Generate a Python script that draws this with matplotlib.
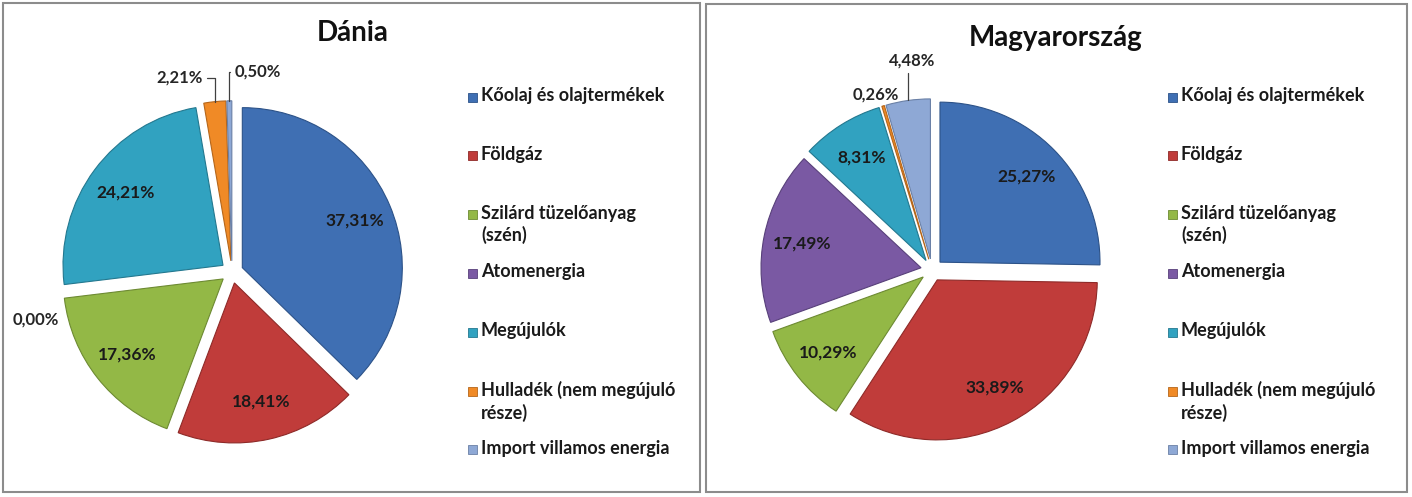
"""Energiamix: Dánia és Magyarország"""
import numpy as np
import matplotlib.pyplot as plt
from matplotlib.patches import Rectangle

plt.rcParams['font.family'] = ['Lato', 'DejaVu Sans']

categories = ['Kőolaj és olajtermékek', 'Földgáz', 'Szilárd tüzelőanyag\n(szén)',
              'Atomenergia', 'Megújulók', 'Hulladék (nem megújuló\nrésze)',
              'Import villamos energia']
dania = [37.31, 18.41, 17.36, 0.00, 24.21, 2.21, 0.50]
magyar = [25.27, 33.89, 10.29, 17.49, 8.31, 0.26, 4.48]
titles = ['Dánia', 'Magyarország']

colors = ['#3F6FB3', '#C03C3A', '#93B846', '#7A59A3', '#31A2C0', '#F08A26', '#8EA8D5']
edges = ['#2C5288', '#8E2A28', '#6D8A32', '#58407A', '#23788F', '#B5661A', '#6A80A6']

W, H = 1412, 497
UNIT = 160      # pie radius in pixels
EXPLODE = 0.07
HALF = 1.375

# panel layout in pixels (border box, pie centre, title position, legend x)
panels = [
    dict(box=(3, 3, 700, 492), center=(232, 272), title=(353, 33), legend_x=468),
    dict(box=(706, 4, 1407, 492), center=(932, 270), title=(1056, 38), legend_x=1168),
]

# labels that sit outside the pie: index -> (dx px, dy px, ha, leader)
outside = [
    {3: (-3, -27, 'right', False), 5: (-12, 24, 'right', True), 6: (5, 29, 'left', True)},
    {5: (-7, 11, 'center', False), 6: (4, 40, 'center', True)},
]


def fx(x):
    return x / W


def fy(y):
    return 1 - y / H


def pct(v):
    return f'{v:.2f}'.replace('.', ',') + '%'


fig = plt.figure(figsize=(W / 100, H / 100), dpi=100)

for values, title, panel, outs in zip([dania, magyar], titles, panels, outside):
    x0, y0, x1, y1 = panel['box']
    fig.patches.append(Rectangle((fx(x0), fy(y1)), fx(x1 - x0), (y1 - y0) / H,
                                 transform=fig.transFigure, fill=False,
                                 edgecolor='#8C8C8C', linewidth=1.5))
    cx, cy = panel['center']
    size = 2 * HALF * UNIT
    ax = fig.add_axes([fx(cx - size / 2), fy(cy + size / 2), size / W, size / H])
    wedges, _ = ax.pie(values, colors=colors, startangle=90, counterclock=False,
                       explode=[EXPLODE] * len(values), radius=1,
                       wedgeprops=dict(linewidth=0.8))
    for w, ec, v in zip(wedges, edges, values):
        w.set_edgecolor(ec)
        if v == 0:
            w.set_linewidth(0)
    ax.set_xlim(-HALF, HALF)
    ax.set_ylim(-HALF, HALF)
    ax.set_aspect('equal')
    ax.axis('off')

    for i, (w, v) in enumerate(zip(wedges, values)):
        ang = np.deg2rad((w.theta1 + w.theta2) / 2)
        ux, uy = np.cos(ang), np.sin(ang)
        if i in outs:
            dx, dy, ha, leader = outs[i]
            r = 1 + EXPLODE
            arrow = None
            if leader:
                arrow = dict(arrowstyle='-', color='#404040', lw=0.9,
                             connectionstyle='angle,angleA=0,angleB=90,rad=0',
                             shrinkA=1, shrinkB=0)
            ax.annotate(pct(v), xy=(r * ux, r * uy), xytext=(dx, dy),
                        textcoords='offset pixels', ha=ha, va='center',
                        fontsize=12, fontweight='bold', color='#262626',
                        arrowprops=arrow)
        else:
            r = EXPLODE + 0.76
            ax.text(r * ux, r * uy, pct(v), ha='center', va='center',
                    fontsize=12.5, fontweight='bold', color='#1A1A1A')

    fig.text(fx(panel['title'][0]), fy(panel['title'][1]), title, ha='center',
             va='center', fontsize=20, fontweight='bold', color='#111111')

    lx = panel['legend_x']
    for i, name in enumerate(categories):
        ly = 97 + i * 58.8
        fig.patches.append(Rectangle((fx(lx), fy(ly + 4.5)), 9 / W, 9 / H,
                                     transform=fig.transFigure,
                                     facecolor=colors[i], edgecolor=edges[i],
                                     linewidth=0.6))
        fig.text(fx(lx + 13), fy(ly - 10), name, ha='left', va='top',
                 fontsize=13, fontweight='bold', color='#1A1A1A',
                 linespacing=1.3)

fig.savefig('out.png', dpi=100, facecolor='white')
